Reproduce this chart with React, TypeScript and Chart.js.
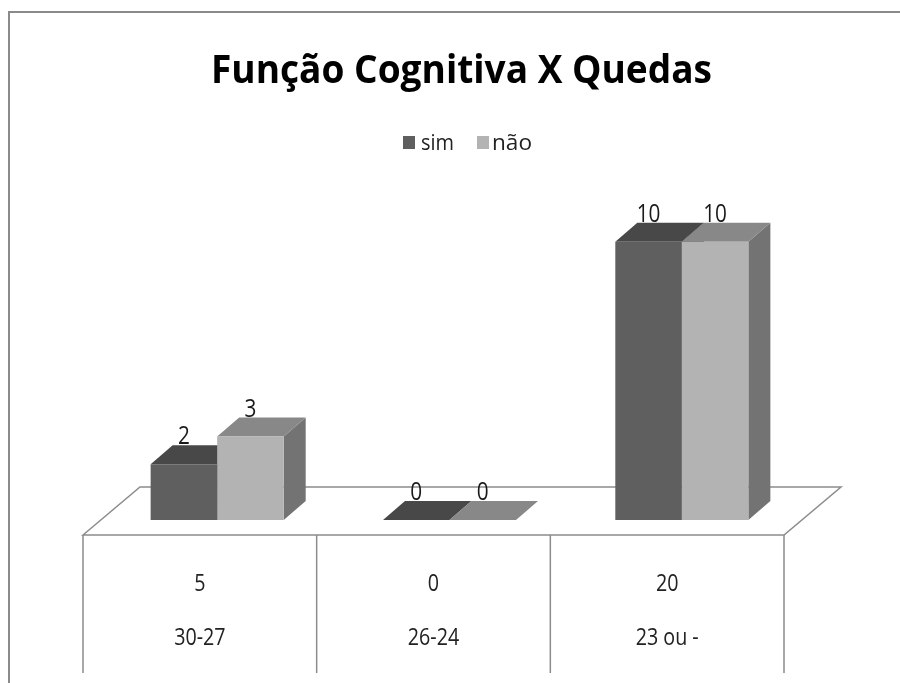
import React, { useEffect, useRef } from "react";
import { Chart, registerables } from "chart.js";

Chart.register(...registerables);

const title = "Função Cognitiva X Quedas";
const categories = ["30-27", "26-24", "23 ou -"];
const seriesNames = ["sim", "não"];
const simValues = [2, 0, 10];
const naoValues = [3, 0, 10];
const tableTotals = ["5", "0", "20"];

const FRONT = ["#5f5f5f", "#b3b3b3"];
const TOP = ["#484848", "#888888"];
const SIDE = ["#3c3c3c", "#737373"];
const DX = 22;
const DY = -19;

function drawText(
  ctx: CanvasRenderingContext2D,
  text: string,
  x: number,
  y: number,
  font: string,
  color: string,
  sx: number,
  align: CanvasTextAlign = "center"
) {
  ctx.save();
  ctx.translate(x, y);
  ctx.scale(sx, 1);
  ctx.font = font;
  ctx.fillStyle = color;
  ctx.textAlign = align;
  ctx.textBaseline = "alphabetic";
  ctx.fillText(text, 0, 0);
  ctx.restore();
}

function fitScale(ctx: CanvasRenderingContext2D, text: string, font: string, target: number) {
  ctx.save();
  ctx.font = font;
  const w = ctx.measureText(text).width;
  ctx.restore();
  return w > 0 ? target / w : 1;
}

const decorPlugin = {
  id: "decor3d",
  beforeDatasetsDraw(chart: any) {
    const ctx: CanvasRenderingContext2D = chart.ctx;
    const xs = chart.scales.x;
    const ys = chart.scales.y;
    const base = ys.getPixelForValue(0);
    const catW = xs.getPixelForValue(1) - xs.getPixelForValue(0);
    const leftEdge = xs.getPixelForValue(0) - catW / 2 - 18;
    const rightEdge = xs.getPixelForValue(categories.length - 1) + catW / 2 - 14;
    const floorFront = base + 15;
    const floorBack = base - 33;
    const fdx = 57;

    ctx.save();
    // outer frame
    ctx.strokeStyle = "#8a8a8a";
    ctx.lineWidth = 2;
    ctx.beginPath();
    ctx.moveTo(9, 683);
    ctx.lineTo(9, 12);
    ctx.lineTo(910, 12);
    ctx.stroke();

    // title
    const tFont = "bold 39px 'Open Sans'";
    drawText(ctx, title, 461.5, 83, tFont, "#000000", fitScale(ctx, title, tFont, 501));

    // legend
    const lFont = "21px 'Open Sans'";
    ctx.fillStyle = FRONT[0];
    ctx.fillRect(403, 136, 12, 13);
    drawText(ctx, seriesNames[0], 421, 150, lFont, "#222", fitScale(ctx, seriesNames[0], lFont, 33), "left");
    ctx.fillStyle = FRONT[1];
    ctx.fillRect(477, 136, 12, 13);
    drawText(ctx, seriesNames[1], 492, 150, lFont, "#222", fitScale(ctx, seriesNames[1], lFont, 40), "left");

    // floor
    ctx.strokeStyle = "#8c8c8c";
    ctx.lineWidth = 1.5;
    ctx.beginPath();
    ctx.moveTo(leftEdge, floorFront);
    ctx.lineTo(leftEdge + fdx, floorBack);
    ctx.lineTo(rightEdge + fdx, floorBack);
    ctx.lineTo(rightEdge, floorFront);
    ctx.closePath();
    ctx.stroke();

    // data table
    const tableBottom = 673;
    ctx.beginPath();
    for (let i = 0; i <= categories.length; i++) {
      const x = leftEdge + ((rightEdge - leftEdge) * i) / categories.length;
      ctx.moveTo(x, floorFront);
      ctx.lineTo(x, tableBottom);
    }
    ctx.stroke();
    const cFont = "24px 'Open Sans'";
    for (let i = 0; i < categories.length; i++) {
      const cx = leftEdge + ((rightEdge - leftEdge) * (i + 0.5)) / categories.length;
      drawText(ctx, tableTotals[i], cx, 591, cFont, "#222", 0.82);
      drawText(ctx, categories[i], cx, 645, cFont, "#222", 0.82);
    }

    // 3D top & side faces
    for (let d = 0; d < chart.data.datasets.length; d++) {
      const meta = chart.getDatasetMeta(d);
      meta.data.forEach((el: any) => {
        const l = el.x - el.width / 2;
        const r = el.x + el.width / 2;
        const t = el.y;
        const b = el.base;
        if (b - t > 0.5) {
          ctx.fillStyle = SIDE[d];
          ctx.beginPath();
          ctx.moveTo(r, t);
          ctx.lineTo(r + DX, t + DY);
          ctx.lineTo(r + DX, b + DY);
          ctx.lineTo(r, b);
          ctx.closePath();
          ctx.fill();
        }
        ctx.fillStyle = TOP[d];
        ctx.beginPath();
        ctx.moveTo(l, t);
        ctx.lineTo(r, t);
        ctx.lineTo(r + DX, t + DY);
        ctx.lineTo(l + DX, t + DY);
        ctx.closePath();
        ctx.fill();
      });
    }
    ctx.restore();
  },
  afterDatasetsDraw(chart: any) {
    const ctx: CanvasRenderingContext2D = chart.ctx;
    const font = "26px 'Open Sans'";
    for (let d = 0; d < chart.data.datasets.length; d++) {
      const meta = chart.getDatasetMeta(d);
      const vals = chart.data.datasets[d].data;
      meta.data.forEach((el: any, i: number) => {
        drawText(ctx, String(vals[i]), el.x, el.y + DY - 1, font, "#1a1a1a", 0.8);
      });
    }
  },
};

export default function App() {
  const ref = useRef<HTMLCanvasElement | null>(null);
  useEffect(() => {
    if (!ref.current) return;
    const chart = new Chart(ref.current, {
      type: "bar",
      data: {
        labels: categories,
        datasets: [
          { label: seriesNames[0], data: simValues, backgroundColor: FRONT[0], borderWidth: 0 },
          { label: seriesNames[1], data: naoValues, backgroundColor: FRONT[1], borderWidth: 0 },
        ],
      },
      options: {
        responsive: false,
        animation: false,
        devicePixelRatio: 1,
        layout: { padding: { left: 101, right: 102, top: 186, bottom: 163 } },
        plugins: { legend: { display: false }, title: { display: false }, tooltip: { enabled: false } },
        datasets: { bar: { barPercentage: 1, categoryPercentage: 0.5727 } },
        scales: {
          x: { display: false, offset: true },
          y: { display: false, min: 0, max: 12 },
        },
      },
      plugins: [decorPlugin],
    });
    return () => chart.destroy();
  }, []);
  return (
    <div style={{ position: "absolute", left: 0, top: 0, width: 900, height: 683, background: "#fff" }}>
      <canvas ref={ref} width={900} height={683} style={{ display: "block" }} />
    </div>
  );
}
